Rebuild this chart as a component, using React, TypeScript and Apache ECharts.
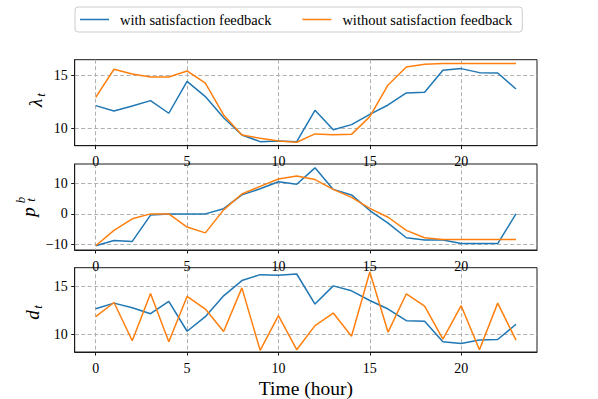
import React, { useEffect, useRef } from 'react';
import * as echarts from 'echarts';

const hours = [0, 1, 2, 3, 4, 5, 6, 7, 8, 9, 10, 11, 12, 13, 14, 15, 16, 17, 18, 19, 20, 21, 22, 23];
const seriesNames = ['with satisfaction feedback', 'without satisfaction feedback'];

const lambdaWith = [12.14, 11.64, 12.1, 12.61, 11.42, 14.43, 12.99, 11.0, 9.37, 8.74, 8.81, 8.74, 11.7, 9.87, 10.35, 11.32, 12.2, 13.33, 13.4, 15.47, 15.63, 15.25, 15.22, 13.71];
const lambdaWithout = [12.92, 15.57, 15.13, 14.84, 14.84, 15.41, 14.25, 11.26, 9.37, 9.06, 8.81, 8.68, 9.47, 9.4, 9.43, 11.1, 14.09, 15.79, 16.04, 16.1, 16.1, 16.1, 16.1, 16.1];

const priceWith = [-10.4, -8.7, -9.0, -0.4, 0, 0, 0, 1.7, 6.2, 8.2, 10.5, 9.7, 15.05, 8.0, 6.2, 1.1, -3.0, -7.8, -8.5, -8.5, -9.7, -9.7, -9.7, 0];
const priceWithout = [-10.4, -5.4, -1.6, 0, 0, -4.3, -6.2, 1.3, 6.5, 9.0, 11.4, 12.4, 11.2, 8.0, 5.4, 1.8, -1.1, -5.4, -7.8, -8.4, -8.4, -8.4, -8.4, -8.4];

const demandWith = [12.67, 13.26, 12.78, 12.15, 13.44, 10.31, 11.84, 14.03, 15.63, 16.25, 16.18, 16.32, 13.16, 15.07, 14.55, 13.54, 12.64, 11.42, 11.35, 9.2, 9.03, 9.38, 9.44, 11.04];
const demandWithout = [11.84, 13.33, 9.31, 14.27, 9.2, 13.96, 12.64, 10.28, 14.86, 8.3, 11.94, 8.37, 10.9, 12.22, 9.79, 16.53, 10.21, 14.24, 12.95, 9.48, 12.99, 8.37, 13.26, 9.38];

const xTicks = [0, 5, 10, 15, 20];
const yTicks = [[10, 15], [-10, 0, 10], [10, 15]];
const yRanges = [[8.36, 16.47], [-11.8, 16.3], [8.13, 16.98]];
const xLabel = 'Time (hour)';

const BLUE = '#1f77b4';
const ORANGE = '#ff7f0e';
const FONT = '"Liberation Serif", "DejaVu Serif", serif';

export default function App() {
  const ref = useRef<HTMLDivElement>(null);
  useEffect(() => {
    const chart = echarts.init(ref.current!, null, { renderer: 'svg' });
    const tops = [59.7, 164, 267.7];
    const gridLeft = 74.7;
    const gridWidth = 462.3;
    const gridHeight = 86;
    const pairs = (arr: number[]) => arr.map((v, i) => [hours[i], v]);
    const dataSets = [
      [lambdaWith, lambdaWithout],
      [priceWith, priceWithout],
      [demandWith, demandWithout],
    ];
    const splitLine = { show: true, lineStyle: { color: '#b0b0b0', type: [4, 2.5], width: 1 } };
    const grids = tops.map((t) => ({
      left: gridLeft,
      top: t,
      width: gridWidth,
      height: gridHeight,
      show: true,
      borderColor: '#1a1a1a',
      borderWidth: 1,
      backgroundColor: 'transparent',
    }));
    const xAxes = tops.map((_, i) => ({
      type: 'value',
      gridIndex: i,
      min: -1.15,
      max: 24.15,
      axisLine: { show: true, onZero: false, lineStyle: { color: '#1a1a1a', width: 1 } },
      axisTick: { show: true, length: 3.5, customValues: xTicks, lineStyle: { color: '#1a1a1a' } },
      axisLabel: { customValues: xTicks, color: '#000', fontFamily: FONT, fontSize: 14, margin: 9 },
      splitLine,
      ...(i === 2
        ? {
            name: xLabel,
            nameLocation: 'middle',
            nameGap: 26,
            nameTextStyle: { fontFamily: FONT, fontSize: 19.5, color: '#000' },
          }
        : {}),
    }));
    const yAxes = tops.map((_, i) => ({
      type: 'value',
      gridIndex: i,
      min: yRanges[i][0],
      max: yRanges[i][1],
      axisLine: { show: true, onZero: false, lineStyle: { color: '#1a1a1a', width: 1 } },
      axisTick: { show: true, length: 3.5, customValues: yTicks[i], lineStyle: { color: '#1a1a1a' } },
      axisLabel: {
        customValues: yTicks[i],
        color: '#000',
        fontFamily: FONT,
        fontSize: 14,
        margin: 7,
        formatter: (v: number) => String(v).replace('-', '\u2212'),
      },
      splitLine,
    }));
    const series: any[] = [];
    dataSets.forEach((pair, i) => {
      pair.forEach((arr, j) => {
        series.push({
          type: 'line',
          name: seriesNames[j],
          xAxisIndex: i,
          yAxisIndex: i,
          data: pairs(arr),
          symbol: 'none',
          color: j === 0 ? BLUE : ORANGE,
          lineStyle: { color: j === 0 ? BLUE : ORANGE, width: 1.5 },
          z: 3 + j,
        });
      });
    });
    const lab = (text: string, x: number, y: number, size: number) => ({
      type: 'text',
      x,
      y,
      rotation: Math.PI / 2,
      style: {
        text,
        fontFamily: FONT,
        fontStyle: 'italic',
        fontSize: size,
        fill: '#000',
        align: 'center',
        verticalAlign: 'middle',
      },
    });
    chart.setOption({
      animation: false,
      backgroundColor: '#fff',
      legend: {
        left: 75,
        top: 7,
        padding: [5, 10, 5, 5],
        itemGap: 31,
        itemWidth: 29,
        itemHeight: 1.5,
        icon: 'rect',
        borderColor: '#cccccc',
        borderWidth: 1,
        borderRadius: 3,
        textStyle: { fontFamily: FONT, fontSize: 14.5, color: '#000', padding: [0, 0, 0, 6], lineHeight: 13 },
        data: seriesNames,
      },
      grid: grids,
      xAxis: xAxes,
      yAxis: yAxes,
      series,
      graphic: [
        lab('\u03bb', 35, 103, 19),
        lab('t', 40, 95, 13),
        lab('p', 28, 212, 19),
        lab('b', 20, 200, 13),
        lab('t', 30, 200, 13),
        lab('d', 32, 315, 19),
        lab('t', 37, 307, 13),
      ],
    });
    return () => chart.dispose();
  }, []);
  return <div ref={ref} style={{ position: 'absolute', left: 0, top: 0, width: 598, height: 399 }} />;
}
